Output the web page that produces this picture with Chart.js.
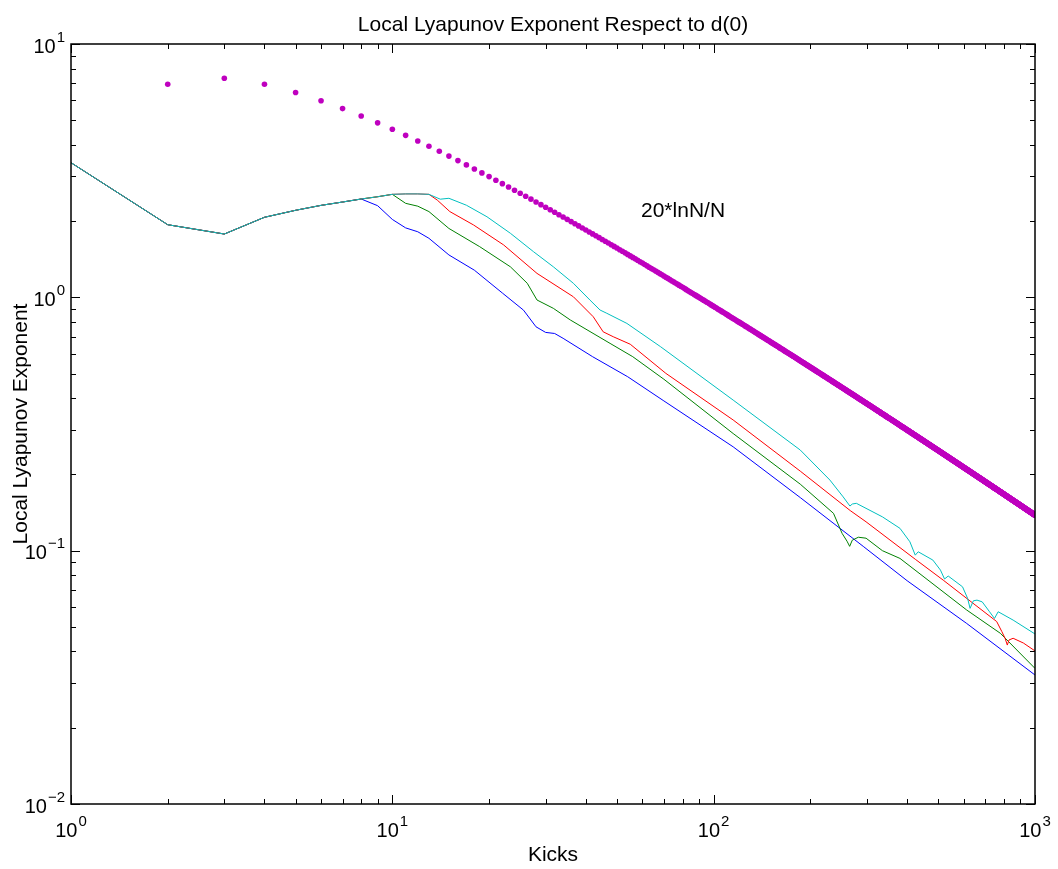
<!DOCTYPE html>
<html>
<head>
<meta charset="utf-8">
<title>Local Lyapunov Exponent</title>
<script src="https://cdn.jsdelivr.net/npm/chart.js@4.4.1/dist/chart.umd.min.js"></script>
<style>
  body { margin: 0; background: #fff; }
  #wrap { width: 1058px; height: 869px; }
</style>
</head>
<body>
<div id="wrap"><canvas id="lyapChart" width="1058" height="869"></canvas></div>
<script>
// kicks 1..8: all four runs still lie on top of each other
var commonKicks = [1, 2, 3, 4, 5, 6, 7, 8];
var commonVals = [3.40, 1.935, 1.778, 2.07, 2.206, 2.307, 2.378, 2.444];

// blue run (leaves first)
var blueKicks = [9, 10, 11, 12, 13, 15, 18, 22, 25.6, 28, 30, 32, 34, 42, 54, 70, 115, 186, 292, 400, 613, 1000];
var blueVals = [2.30, 2.03, 1.88, 1.815, 1.71, 1.47, 1.28, 1.04, 0.89, 0.765, 0.727, 0.72, 0.689, 0.583, 0.486, 0.39, 0.257, 0.162, 0.104, 0.0761, 0.0516, 0.0323];

// green run
var greenKicks = [9, 10, 11, 12, 13, 15, 18.7, 23.3, 26.3, 28.2, 31.7, 35.8, 47.6, 56, 70, 115, 186, 236, 251, 260, 265, 270, 282, 298, 335, 380, 613, 780, 1000];
var greenVals = [2.495, 2.55, 2.35, 2.29, 2.18, 1.87, 1.585, 1.32, 1.136, 0.976, 0.905, 0.814, 0.658, 0.583, 0.475, 0.29, 0.183, 0.1404, 0.117, 0.109, 0.104, 0.110, 0.113, 0.112, 0.100, 0.0932, 0.0583, 0.0472, 0.0343];

// red run
var redKicks = [9, 10, 11, 12, 13, 13.8, 15.1, 17.9, 22.2, 28.2, 36.6, 42.2, 45.3, 48.7, 55, 71, 115, 186, 266, 298, 424, 518, 628, 760, 788, 807, 820, 830, 855, 920, 1000];
var redVals = [2.495, 2.55, 2.56, 2.56, 2.55, 2.42, 2.18, 1.93, 1.61, 1.243, 1.005, 0.838, 0.731, 0.699, 0.653, 0.501, 0.328, 0.206, 0.144, 0.13, 0.0925, 0.0765, 0.0633, 0.0525, 0.048, 0.0451, 0.0424, 0.0444, 0.0451, 0.0432, 0.0402];

// cyan run (leaves last, several cusps near the end)
var cyanKicks = [9, 10, 11, 12, 13, 14.1, 15, 17, 19.7, 23.3, 27.5, 31.7, 36.6, 41.2, 44.3, 46.5, 53.7, 68.4, 115, 186, 230, 253, 265.5, 270, 278, 335, 380, 408, 424, 433, 481, 508, 523, 537, 595, 617, 628, 643, 660, 685, 722, 748, 768, 855, 1000];
var cyanVals = [2.495, 2.55, 2.56, 2.56, 2.55, 2.44, 2.46, 2.31, 2.08, 1.79, 1.514, 1.32, 1.136, 0.976, 0.891, 0.865, 0.789, 0.638, 0.393, 0.2496, 0.19, 0.163, 0.150, 0.1528, 0.1538, 0.136, 0.1225, 0.1084, 0.096, 0.099, 0.0918, 0.0838, 0.0773, 0.0794, 0.072, 0.0648, 0.0592, 0.0634, 0.0638, 0.0628, 0.0574, 0.054, 0.0574, 0.0532, 0.0469];

// reference curve, one dot per kick: 20*lnN/N
var refLabel = '20*lnN/N';
var refKicks = [];
var refVals = [];
for (var n = 2; n <= 1000; n++) {
  refKicks.push(n);
  refVals.push(20 * Math.log(n) / n);
}

// axis decades (exponents of ten)
var xExps = [0, 1, 2, 3];
var yExps = [-2, -1, 0, 1];

var titleText = 'Local Lyapunov Exponent Respect to d(0)';
var xTitle = 'Kicks';
var yTitle = 'Local Lyapunov Exponent';

function pairs(kicks, vals) {
  return kicks.map(function(k, i) { return { x: k, y: vals[i] }; });
}

function run(tailKicks, tailVals) {
  return pairs(commonKicks.concat(tailKicks), commonVals.concat(tailVals));
}

var FONT = '"Liberation Sans", Arial, Helvetica, sans-serif';

// "10" with the exponent raised to the upper right
function drawPow(ctx, exp, x, y, align) {
  var base = '10';
  var sup = exp < 0 ? '\u2212' + (-exp) : String(exp);
  ctx.font = '20px ' + FONT;
  var wb = ctx.measureText(base).width;
  ctx.font = '15px ' + FONT;
  var ws = ctx.measureText(sup).width;
  var total = wb + 1 + ws;
  var left = align === 'center' ? x - total / 2 : x - total;
  ctx.textAlign = 'left';
  ctx.textBaseline = 'alphabetic';
  ctx.font = '20px ' + FONT;
  ctx.fillText(base, left, y);
  ctx.font = '15px ' + FONT;
  ctx.fillText(sup, left + wb + 1, y - 11);
}

// box, inward ticks on all four sides, labels and titles
var axisBox = {
  id: 'axisBox',
  afterDraw: function(chart) {
    var ctx = chart.ctx;
    var a = chart.chartArea;
    var xs = chart.scales.x;
    var ys = chart.scales.y;
    ctx.save();
    ctx.strokeStyle = '#000';
    ctx.fillStyle = '#000';

    ctx.lineWidth = 1;
    ctx.beginPath();
    xExps.forEach(function(e, i) {
      var px = Math.round(xs.getPixelForValue(Math.pow(10, e))) + 0.5;
      ctx.moveTo(px, a.bottom); ctx.lineTo(px, a.bottom - 9);
      ctx.moveTo(px, a.top); ctx.lineTo(px, a.top + 9);
      if (i < xExps.length - 1) {
        for (var k = 2; k <= 9; k++) {
          var pm = Math.round(xs.getPixelForValue(k * Math.pow(10, e))) + 0.5;
          ctx.moveTo(pm, a.bottom); ctx.lineTo(pm, a.bottom - 5);
          ctx.moveTo(pm, a.top); ctx.lineTo(pm, a.top + 5);
        }
      }
    });
    yExps.forEach(function(e, i) {
      var py = Math.round(ys.getPixelForValue(Math.pow(10, e))) + 0.5;
      ctx.moveTo(a.left, py); ctx.lineTo(a.left + 9, py);
      ctx.moveTo(a.right, py); ctx.lineTo(a.right - 9, py);
      if (i < yExps.length - 1) {
        for (var k = 2; k <= 9; k++) {
          var pm = Math.round(ys.getPixelForValue(k * Math.pow(10, e))) + 0.5;
          ctx.moveTo(a.left, pm); ctx.lineTo(a.left + 5, pm);
          ctx.moveTo(a.right, pm); ctx.lineTo(a.right - 5, pm);
        }
      }
    });
    ctx.stroke();

    ctx.lineWidth = 1.5;
    ctx.strokeRect(a.left, a.top, a.right - a.left, a.bottom - a.top);

    xExps.forEach(function(e) {
      drawPow(ctx, e, xs.getPixelForValue(Math.pow(10, e)), a.bottom + 33, 'center');
    });
    yExps.forEach(function(e) {
      drawPow(ctx, e, a.left - 6, ys.getPixelForValue(Math.pow(10, e)) + 8.5, 'right');
    });

    ctx.font = '21px ' + FONT;
    ctx.textAlign = 'center';
    ctx.textBaseline = 'alphabetic';
    ctx.fillText(titleText, (a.left + a.right) / 2, 30.5);
    ctx.fillText(xTitle, (a.left + a.right) / 2, 861);

    ctx.save();
    ctx.translate(26.5, (a.top + a.bottom) / 2);
    ctx.rotate(-Math.PI / 2);
    ctx.fillText(yTitle, 0, 0);
    ctx.restore();

    ctx.textAlign = 'left';
    ctx.fillText(refLabel, 641, 216.5);
    ctx.restore();
  }
};

function lineSet(data, color) {
  return {
    data: data,
    showLine: true,
    borderColor: color,
    backgroundColor: color,
    borderWidth: 1,
    pointRadius: 0,
    tension: 0,
    fill: false
  };
}

// first dataset is drawn on top, so cyan goes first
var datasets = [
  lineSet(run(cyanKicks, cyanVals), 'rgb(0,191,191)'),
  lineSet(run(redKicks, redVals), 'rgb(255,0,0)'),
  lineSet(run(greenKicks, greenVals), 'rgb(0,128,0)'),
  lineSet(run(blueKicks, blueVals), 'rgb(0,0,255)'),
  {
    data: pairs(refKicks, refVals),
    showLine: false,
    pointRadius: 2.8,
    pointBorderWidth: 0,
    pointBackgroundColor: 'rgb(191,0,191)',
    pointBorderColor: 'rgb(191,0,191)'
  }
];

var lyapChart = new Chart(document.getElementById('lyapChart'), {
  type: 'scatter',
  data: { datasets: datasets },
  options: {
    responsive: false,
    animation: false,
    events: [],
    layout: {
      autoPadding: false,
      padding: { left: 71, top: 44, right: 23, bottom: 65 }
    },
    plugins: {
      legend: { display: false },
      tooltip: { enabled: false },
      title: { display: false }
    },
    scales: {
      x: { type: 'logarithmic', min: 1, max: 1000, display: false },
      y: { type: 'logarithmic', min: 0.01, max: 10, display: false }
    }
  },
  plugins: [axisBox]
});
</script>
</body>
</html>
